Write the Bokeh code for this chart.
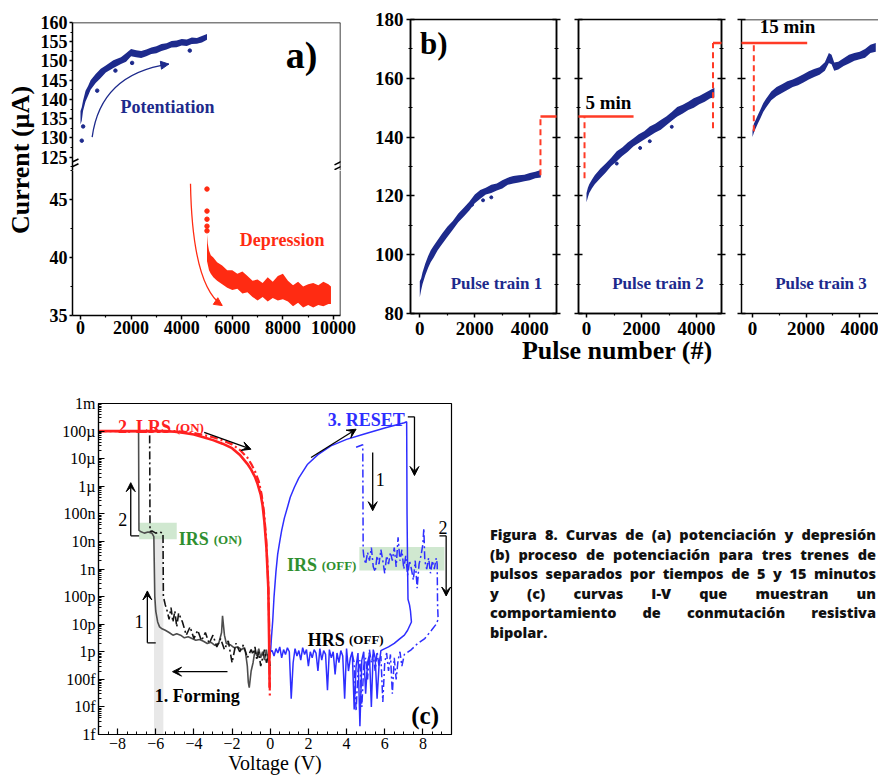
import math
from bokeh.plotting import figure
from bokeh.layouts import row, column
from bokeh.models import (Range1d, LinearAxis, FixedTicker, Label, Arrow, VeeHead, NormalHead,
                          BoxAnnotation, Div, Span, CustomJSTickFormatter)
from bokeh.embed import file_html
from bokeh.resources import INLINE

# ---------------------------------------------------------------- panel a data
a_xticks = [0, 2000, 4000, 6000, 8000, 10000]
a_top_ticks = [125, 130, 135, 140, 145, 150, 155, 160]
a_bot_ticks = [35, 40, 45]

pot_x = [0, 50, 100, 200, 300, 400, 600, 800, 1000, 1300, 1600, 1800, 2000, 2200, 2400, 2600,
         2800, 3000, 3200, 3400, 3600, 3800, 4000, 4200, 4400, 4600, 4800, 5000]
pot_lo = [133.5, 134.5, 137.0, 139.5, 141.0, 142.5, 144.3, 145.6, 147.0, 148.2, 149.2, 149.8, 151.2, 151.0,
          150.8, 151.2, 151.8, 152.0, 152.6, 153.0, 153.5, 153.6, 154.0, 153.9, 154.4, 154.5, 154.8, 155.5]
pot_hi = [137.0, 138.0, 139.7, 142.3, 143.5, 145.0, 146.6, 148.0, 148.8, 150.2, 151.0, 152.0, 153.1, 152.8,
          152.6, 153.0, 153.5, 153.8, 154.4, 154.6, 155.2, 155.3, 155.7, 155.6, 156.1, 156.0, 156.5, 157.0]
pot_out_x = [50, 105, 660, 1380, 2040, 4320]
pot_out_y = [129.3, 133.0, 142.3, 147.5, 149.5, 152.7]

dep_x = [5000, 5030, 5080, 5150, 5250, 5400, 5600, 5800, 6000, 6200, 6400, 6600, 6800, 7000, 7200,
         7400, 7600, 7800, 8000, 8200, 8400, 8600, 8800, 9000, 9200, 9400, 9600, 9800, 9900]
dep_lo = [39.7, 39.4, 38.9, 38.6, 38.3, 38.0, 37.7, 37.4, 37.2, 37.3, 36.9, 37.0, 36.6, 36.3, 36.6,
          36.2, 36.5, 36.3, 36.4, 36.2, 35.8, 36.1, 35.7, 35.9, 35.7, 35.9, 35.8, 36.0, 36.0]
dep_hi = [42.0, 41.2, 40.6, 40.2, 40.0, 39.6, 39.3, 38.9, 38.9, 38.6, 38.8, 38.4, 38.0, 38.1, 37.8,
          38.3, 37.9, 38.4, 38.6, 38.0, 37.6, 37.9, 37.5, 37.7, 37.8, 37.6, 37.9, 37.7, 37.5]
dep_dot_x = [5000, 5000, 5000, 5000, 5000]
dep_dot_y = [45.9, 44.0, 43.3, 42.7, 42.3]

# ---------------------------------------------------------------- panel b data
b_xticks = [0, 2000, 4000]
b_yticks = [80, 100, 120, 140, 160, 180]

t1_x = [0, 50, 100, 200, 300, 400, 500, 650, 800, 1000, 1200, 1400, 1600, 1800, 2000, 2200, 2400,
        2600, 2800, 3000, 3200, 3400, 3600, 3800, 4000, 4200, 4400]
t1_lo = [85.5, 88.0, 90.0, 93.0, 95.5, 97.5, 99.0, 101.5, 103.5, 106.0, 108.5, 111.0, 113.0, 115.0,
         117.5, 119.0, 120.5, 121.0, 121.8, 122.5, 123.8, 124.2, 124.6, 125.0, 125.3, 126.0, 126.3]
t1_hi = [91.0, 92.0, 94.0, 97.0, 99.5, 101.5, 103.0, 105.0, 107.0, 109.5, 111.5, 114.0, 116.0, 118.0,
         120.5, 122.0, 122.8, 123.8, 124.2, 125.3, 126.2, 126.8, 127.0, 127.2, 127.8, 128.2, 128.8]
t1_out_x = [1900, 2300, 2600]
t1_out_y = [117.0, 118.5, 119.5]

t2_x = [0, 50, 100, 200, 300, 500, 700, 900, 1100, 1300, 1500, 1700, 1900, 2100, 2300, 2500, 2700,
        2900, 3100, 3300, 3500, 3700, 3900, 4100, 4300, 4500, 4650]
t2_lo = [117.8, 119.5, 121.0, 122.6, 124.0, 126.0, 128.0, 130.2, 131.8, 133.6, 135.0, 136.8, 138.0,
         139.2, 140.4, 141.6, 142.5, 144.0, 145.6, 147.0, 148.0, 149.2, 150.0, 151.2, 152.0, 153.2, 153.5]
t2_hi = [121.0, 122.8, 124.0, 125.6, 127.0, 129.2, 131.0, 133.0, 135.2, 136.5, 138.2, 139.5, 141.0,
         142.0, 143.6, 144.5, 145.8, 147.0, 148.5, 150.2, 151.0, 152.0, 153.2, 154.0, 155.0, 156.0, 156.8]
t2_out_x = [1100, 1950, 2300, 3100]
t2_out_y = [131.0, 136.3, 138.6, 143.5]

t3_x = [0, 50, 100, 200, 300, 400, 500, 700, 900, 1100, 1300, 1500, 1700, 1900, 2100, 2300, 2500,
        2700, 2850, 2950, 3050, 3200, 3400, 3600, 3800, 4000, 4200, 4400, 4600]
t3_lo = [140.0, 141.5, 142.6, 144.6, 146.5, 148.5, 150.0, 152.5, 154.0, 155.0, 156.0, 157.0, 157.6,
         158.6, 159.6, 160.4, 161.2, 162.6, 165.2, 164.8, 162.6, 163.0, 164.2, 165.0, 166.0, 166.5,
         167.0, 168.6, 169.0]
t3_hi = [142.2, 144.5, 145.5, 147.5, 149.5, 151.5, 153.0, 155.5, 157.0, 158.0, 159.0, 159.6, 160.4,
         161.4, 162.4, 163.2, 163.8, 165.5, 168.6, 168.0, 165.4, 165.6, 166.8, 168.0, 168.6, 169.0,
         170.0, 171.4, 172.0]

# ---------------------------------------------------------------- panel c data
c_xticks = [-8, -6, -4, -2, 0, 2, 4, 6, 8]
c_yticks = [1e-15, 1e-14, 1e-13, 1e-12, 1e-11, 1e-10, 1e-9, 1e-8, 1e-7, 1e-6, 1e-5, 1e-4, 1e-3]
c_ytick_labels = ["1f", "10f", "100f", "1p", "10p", "100p", "1n", "10n", "100n", "1\u00b5", "10\u00b5",
                  "100\u00b5", "1m"]

red_x = [-9, -5.5, -5, -4.5, -4, -3.5, -3, -2.5, -2, -1.6, -1.2, -1.0, -0.8, -0.66, -0.5, -0.4,
         -0.31, -0.2, -0.1, -0.06, -0.03]
red_y = [1e-4, 1e-4, 9.5e-5, 8.5e-5, 7.5e-5, 6e-5, 4.7e-5, 3.5e-5, 2.4e-5, 1.4e-5, 6.5e-6, 4e-6,
         2.2e-6, 1.2e-6, 5e-7, 2e-7, 5.5e-8, 6e-9, 2e-10, 3e-12, 5e-14]
red2_x = [-9, -5.5, -5, -4.5, -4, -3.5, -3, -2.5, -2, -1.6, -1.2, -1.0, -0.8, -0.6, -0.45, -0.33,
          -0.22, -0.12, -0.07, -0.04, -0.02]
red2_y = [1e-4, 1e-4, 1e-4, 9.3e-5, 8.5e-5, 7.2e-5, 6e-5, 4.6e-5, 3.3e-5, 2.1e-5, 1.1e-5, 6.5e-6,
          3.5e-6, 1.5e-6, 5e-7, 1.2e-7, 1.5e-8, 6e-10, 3e-11, 1e-12, 2e-14]

blue_x = [0.02, 0.06, 0.13, 0.2, 0.3, 0.39, 0.5, 0.6, 0.74, 0.9, 1.05, 1.26, 1.5, 1.96, 2.5, 3.18,
          4.0, 4.93, 6.0, 7.03, 7.15, 7.17, 7.2, 7.22, 7.3, 7.35, 7.4, 7.2, 7.03, 6.8, 6.5, 6.2, 5.9]
blue_y = [1e-12, 3e-12, 1.3e-11, 1e-10, 8e-10, 3.4e-9, 1e-8, 2.5e-8, 7e-8, 1.7e-7, 4e-7, 9e-7, 2e-6,
          6.3e-6, 1.4e-5, 2.9e-5, 5e-5, 7.8e-5, 1.3e-4, 2e-4, 2.2e-4, 1e-7, 1e-9, 8e-11, 5e-11, 3e-11,
          1.2e-11, 6e-12, 4e-12, 3e-12, 2e-12, 1.5e-12, 1.2e-12]
hrs_x = [5.8, 5.7, 5.6, 5.5, 5.4, 5.3, 5.2, 5.1, 5.0, 4.9, 4.8, 4.7, 4.6, 4.5, 4.4, 4.3, 4.2, 4.1,
         4.0, 3.9, 3.8, 3.7, 3.6, 3.5, 3.4, 3.3, 3.2, 3.1, 3.0, 2.9, 2.8, 2.7, 2.6, 2.5, 2.4, 2.3,
         2.2, 2.1, 2.0, 1.9, 1.8, 1.7, 1.6, 1.5, 1.4, 1.3, 1.2, 1.1, 1.0, 0.9, 0.8, 0.7, 0.6, 0.5,
         0.4, 0.3, 0.2, 0.1, 0.02]
hrs_y = [1.1e-12, 3e-13, 2e-14, 6e-13, 1.2e-12, 1e-14, 8e-13, 4e-13, 3e-14, 1e-12, 5e-13, 2e-15,
         9e-13, 3e-13, 8e-15, 1e-12, 6e-13, 2e-13, 1.3e-12, 2e-14, 7e-13, 1.1e-12, 4e-13, 9e-13,
         1.5e-13, 1e-12, 6e-13, 1.2e-12, 4e-14, 8e-13, 1.1e-12, 5e-13, 1.3e-12, 2e-13, 9e-13, 1.2e-12,
         6e-13, 1e-12, 3e-13, 1.2e-12, 8e-13, 1.4e-12, 5e-13, 1.1e-12, 7e-13, 1.3e-12, 4e-13, 2e-14,
         1e-12, 1.4e-12, 8e-13, 1.2e-12, 6e-13, 1.5e-12, 9e-13, 1.3e-12, 7e-13, 1.1e-12, 1e-12]
blue2_x = [4.5, 4.85, 4.87, 4.9, 5.0, 5.1, 5.2, 5.3, 5.4, 5.5, 5.6, 5.7, 5.8, 5.9, 6.0, 6.1, 6.2,
           6.3, 6.4, 6.5, 6.6, 6.7, 6.8, 6.9, 7.0, 7.1, 7.2, 7.3, 7.4, 7.5, 7.6, 7.7, 7.8, 7.9, 8.0,
           8.05, 8.1, 8.2, 8.3, 8.4, 8.5, 8.6, 8.7, 8.75, 8.77, 8.8, 8.7, 8.45, 8.1, 7.73, 7.4, 7.03,
           6.9, 6.8, 6.7, 6.6, 6.5, 6.4, 6.3, 6.2, 6.1, 6.0, 5.9, 5.8, 5.7, 5.6, 5.5, 5.4, 5.3, 5.2,
           5.1, 5.0, 4.9, 4.8, 4.7, 4.6, 4.5, 4.4, 4.3]
blue2_y = [2.6e-5, 3.2e-5, 5e-9, 3e-9, 1.5e-9, 4e-9, 2e-9, 6e-9, 1.2e-9, 8e-10, 3e-9, 1.5e-9, 5e-9,
           2e-9, 7e-10, 3e-9, 1.5e-9, 4e-9, 2e-9, 6e-9, 1.2e-9, 1.4e-8, 2e-9, 5e-9, 1e-9, 3e-9, 6e-10,
           2e-9, 1e-9, 4e-10, 2e-9, 2e-10, 1.5e-9, 3e-9, 8e-9, 3e-8, 2e-9, 1e-9, 2.5e-9, 7e-10, 2e-9,
           1e-9, 2.5e-9, 1.5e-9, 5e-11, 1.5e-11, 1e-11, 6e-12, 3e-12, 2e-12, 1.2e-12, 8e-13, 3e-13,
           1e-12, 5e-13, 1e-13, 6e-13, 3e-14, 8e-13, 2e-13, 9e-13, 4e-13, 1.5e-14, 7e-13, 3e-13, 1e-12,
           2e-13, 8e-13, 4e-13, 1.2e-12, 1e-13, 6e-13, 3e-13, 1e-14, 5e-13, 2e-13, 7e-15, 4e-13, 8e-13]
form_x = [0.0, -0.1, -0.2, -0.3, -0.4, -0.5, -0.6, -0.7, -0.8, -0.9, -1.0, -1.1, -1.15, -1.2, -1.3,
          -1.4, -1.5, -1.7, -1.9, -2.1, -2.3, -2.4, -2.5, -2.55, -2.7, -2.9, -3.1, -3.3, -3.5, -3.7,
          -3.9, -4.1, -4.3, -4.5, -4.7, -4.9, -5.1, -5.3, -5.5, -5.7, -5.8, -5.9, -6.0, -6.05, -6.08,
          -6.1, -6.2, -6.4, -6.6, -6.8, -6.88, -6.9, -9.0]
form_y = [1e-12, 4e-13, 1.2e-12, 5e-13, 1e-12, 6e-13, 1.3e-12, 7e-13, 1.1e-12, 4e-13, 2e-13, 5e-14,
          8e-14, 3e-13, 1e-12, 1.4e-12, 1.2e-12, 1.5e-12, 1.4e-12, 1.8e-12, 2e-12, 4e-12, 2e-11, 5e-12,
          2e-12, 1.7e-12, 2.2e-12, 2e-12, 2.4e-12, 2.8e-12, 2.6e-12, 3e-12, 3.5e-12, 3.2e-12, 4e-12,
          4.5e-12, 4e-12, 5e-12, 6e-12, 7e-12, 8e-12, 1.2e-11, 3e-11, 1e-10, 2e-9, 1.5e-8, 2e-8, 2.2e-8,
          2e-8, 2.3e-8, 2.5e-8, 1e-4, 1e-4]
form2_x = [0.0, -0.1, -0.2, -0.3, -0.4, -0.5, -0.6, -0.7, -0.8, -0.9, -1.0, -1.2, -1.4, -1.6, -1.8,
           -2.0, -2.2, -2.4, -2.6, -2.8, -3.0, -3.2, -3.4, -3.6, -3.8, -4.0, -4.2, -4.4, -4.6, -4.8,
           -4.9, -5.0, -5.1, -5.2, -5.3, -5.4, -5.5, -5.6, -5.62, -5.8, -6.0, -6.2, -6.3, -6.32, -9.0]
form2_y = [3e-13, 8e-13, 4e-13, 1.2e-12, 6e-13, 3e-13, 1e-12, 5e-13, 1.5e-12, 8e-13, 1.2e-12, 6e-13,
           1.8e-12, 1e-12, 2e-12, 4e-13, 2.5e-12, 1.2e-12, 3e-12, 1.5e-12, 4e-12, 2e-12, 5e-12, 2.5e-12,
           6e-12, 3e-12, 8e-12, 4e-12, 1.2e-11, 2.5e-11, 8e-12, 3e-11, 1.2e-11, 4e-11, 1.5e-11, 3e-11,
           5e-11, 1e-10, 2e-8, 2.2e-8, 2e-8, 2.4e-8, 2.3e-8, 1e-4, 1e-4]

caption_lines = ["Figura 8. Curvas de (a) potenciaci\u00f3n y depresi\u00f3n",
                 "(b) proceso de potenciaci\u00f3n para tres trenes de",
                 "pulsos separados por tiempos de 5 y 15 minutos",
                 "y (c) curvas I-V que muestran un",
                 "comportamiento de conmutaci\u00f3n resistiva",
                 "bipolar."]

# ---------------------------------------------------------------- styling
SERIF = "Liberation Serif"
NAVY = "#1d2a8c"
RED_A = "#ff2b12"
BRACKET = "#ff3b26"
C_RED = "#ff2020"
C_BLUE = "#2e2eff"
C_GRAY = "#4d4d4d"
C_BLACK = "#141414"
C_GREEN = "#2f8f2f"


def make_fig(w, h, xr, yr, mb, y_type="linear", x_axis=True):
    l, r, t, b = mb
    p = figure(width=w, height=h, x_range=Range1d(*xr),
               y_range=yr if isinstance(yr, Range1d) else Range1d(*yr),
               y_axis_type=y_type, x_axis_location="below" if x_axis else None,
               min_border_left=l, min_border_right=r, min_border_top=t, min_border_bottom=b,
               output_backend="svg", toolbar_location=None)
    p.grid.visible = False
    p.outline_line_color = None
    p.background_fill_color = "white"
    p.border_fill_color = "white"
    return p


def style_axis(ax, ticks, minor, size="18px", t_in=0, t_out=4, m_in=0, m_out=2, standoff=3,
               labels=True, bold=True, lw=1.5):
    ax.ticker = FixedTicker(ticks=ticks, minor_ticks=minor)
    ax.axis_line_color = "black"
    ax.axis_line_width = lw
    ax.major_tick_line_color = "black"
    ax.major_tick_line_width = lw
    ax.minor_tick_line_color = "black"
    ax.minor_tick_line_width = lw * 0.8
    ax.major_tick_in = t_in
    ax.major_tick_out = t_out
    ax.minor_tick_in = m_in
    ax.minor_tick_out = m_out
    ax.major_label_standoff = standoff
    ax.major_label_text_font = SERIF
    ax.major_label_text_font_style = "bold" if bold else "normal"
    ax.major_label_text_font_size = size
    ax.major_label_text_color = "black"
    if not labels:
        ax.formatter = CustomJSTickFormatter(code="return ''")
        ax.major_label_standoff = 0


def mids(t):
    return [(a + b) / 2 for a, b in zip(t[:-1], t[1:])]


def lbl(p, x, y, text, size, color="black", bold=True, align="center", base="middle", angle=0.0):
    p.add_layout(Label(x=x, y=y, text=text, text_font=SERIF, text_font_size=size,
                       text_font_style="bold" if bold else "normal", text_color=color,
                       text_align=align, text_baseline=base, angle=angle))


def seg(p, x0, y0, x1, y1, color, width=1.5, dash="solid", head=None):
    p.add_layout(Arrow(end=head, x_start=x0, y_start=y0, x_end=x1, y_end=y1, line_color=color,
                       line_width=width, line_dash=dash))


# ---------------------------------------------------------------- panel a
A_XR = (-316, 10277)
a_top = make_fig(320, 170, A_XR, (121.55, 160), (36, 16, 22, 0), x_axis=False)
a_bot = make_fig(320, 218, A_XR, (35, 47.5), (36, 16, 0, 73))

style_axis(a_top.yaxis[0], a_top_ticks, mids(a_top_ticks) + [122.5], t_out=3, standoff=2)
a_top.add_layout(Span(location=160, dimension="width", line_color="black", line_width=1.5))
a_top.add_layout(Span(location=A_XR[1], dimension="height", line_color="black", line_width=1.5))

style_axis(a_bot.yaxis[0], a_bot_ticks, mids(a_bot_ticks) + [47.5], t_out=3, standoff=2)
style_axis(a_bot.xaxis[0], a_xticks, mids(a_xticks), t_out=4, m_out=2, standoff=1)
a_bot.add_layout(Span(location=A_XR[1], dimension="height", line_color="black", line_width=1.5))

a_top.varea(x=pot_x, y1=pot_lo, y2=pot_hi, fill_color=NAVY)
a_top.scatter(pot_out_x, pot_out_y, size=3.5, color=NAVY)
a_bot.varea(x=dep_x, y1=dep_lo, y2=dep_hi, fill_color=RED_A)
a_bot.scatter(dep_dot_x, dep_dot_y, size=4.5, color=RED_A)

# curved arrows (start, control, end)
pot_arrow = ((461, 130.2), (790, 146.6), (3491, 149.2))
dep_arrow = ((4348, 46.35), (4420, 37.6), (5600, 35.86))
for p, (s, cpt, e), col in ((a_top, pot_arrow, NAVY), (a_bot, dep_arrow, RED_A)):
    p.quadratic(x0=s[0], y0=s[1], x1=e[0], y1=e[1], cx=cpt[0], cy=cpt[1], line_color=col,
                line_width=1.3)
    hx = e[0] - 0.12 * (e[0] - cpt[0])
    hy = e[1] - 0.12 * (e[1] - cpt[1])
    seg(p, hx, hy, e[0], e[1], col, 1.3, head=NormalHead(size=8, fill_color=col, line_color=col))

lbl(a_top, 8735, 151.6, "a)", "38px")
lbl(a_top, 3439, 138.1, "Potentiation", "18px", NAVY)
lbl(a_bot, 7972, 41.5, "Depression", "18px", RED_A)
lbl(a_bot, 5040, 31.8, "Pulse number (#)", "26px")
# axis break marks
for xs in ((-560, -80), (10040, 10514)):
    seg(a_top, xs[0], 121.75, xs[1], 123.3, "black", 1.5)
    seg(a_top, xs[0], 123.0, xs[1], 124.55, "black", 1.5)

div_ay = Div(width=36, height=388, margin=0, text=(
    '<div style="width:36px;height:388px;position:relative;overflow:hidden;">'
    '<div style="position:absolute;left:21px;top:160px;transform:translate(-50%,-50%) rotate(-90deg);'
    'white-space:nowrap;font-family:\'Liberation Serif\';font-weight:bold;font-size:26px;'
    'line-height:28px;color:#000;">Current (\u00b5A)</div></div>'))

# ---------------------------------------------------------------- panel b
B3_K = 0.0268
b_yr = Range1d(80, 180)
b1 = make_fig(211, 343, (-338, 4971), b_yr, (54, 11, 19, 30))
b2 = make_fig(164, 343, (-291, 4909), b_yr, (11, 10, 19, 30))
b3 = make_fig(147, 343, (-11 / B3_K, 126 / B3_K), b_yr, (10, 0, 19, 30))

for i, p in enumerate((b1, b2, b3)):
    style_axis(p.yaxis[0], b_yticks, mids(b_yticks), size="19px", t_in=4, t_out=4, m_in=2, m_out=2,
               standoff=3, labels=(i == 0))
    style_axis(p.xaxis[0], b_xticks, mids(b_xticks), size="19px", t_in=0, t_out=4, m_out=2,
               standoff=4)
    if i < 2:
        p.outline_line_color = "black"
        p.outline_line_width = 1.5
        r = LinearAxis()
        style_axis(r, b_yticks, mids(b_yticks), t_in=4, t_out=4, m_in=2, m_out=2, labels=False)
        p.add_layout(r, "right")
    else:
        p.add_layout(Span(location=180, dimension="width", line_color="black", line_width=1.5))

for p, xs, lo, hi in ((b1, t1_x, t1_lo, t1_hi), (b2, t2_x, t2_lo, t2_hi), (b3, t3_x, t3_lo, t3_hi)):
    p.varea(x=xs, y1=lo, y2=hi, fill_color=NAVY)
b1.scatter(t1_out_x, t1_out_y, size=3, color=NAVY)
b2.scatter(t2_out_x, t2_out_y, size=3, color=NAVY)

# red brackets marking the pauses between trains
seg(b1, 4388, 127, 4388, 147, BRACKET, 2, "6 4")
seg(b1, 4388, 147, 7000, 147, BRACKET, 2.5)
seg(b2, -2500, 147, 1711, 147, BRACKET, 2.5)
seg(b2, -72, 126, -72, 147, BRACKET, 2, "6 4")
seg(b2, 4600, 143, 4600, 172, BRACKET, 2, "6 4")
seg(b2, 4600, 172, 7000, 172, BRACKET, 2.5)
seg(b3, -2500, 172, 2041, 172, BRACKET, 2.5)
seg(b3, 49, 142, 49, 172, BRACKET, 2, "6 4")
lbl(b2, -36, 148.3, "5 min", "19px", align="left", base="bottom")
lbl(b3, 272, 174.0, "15 min", "19px", align="left", base="bottom")

lbl(b1, 509, 171.9, "b)", "31px")
lbl(b1, -1829, 131.1, "Current (\u00b5A)", "25px", angle=math.pi / 2)
lbl(b1, 2789, 90.2, "Pulse train 1", "17px", NAVY)
lbl(b2, 2600, 90.2, "Pulse train 2", "17px", NAVY)
lbl(b3, 2556, 90.2, "Pulse train 3", "17px", NAVY)

div_bx = Div(width=522, height=45, margin=0, text=(
    '<div style="width:506px;padding-left:16px;text-align:center;font-family:\'Liberation Serif\';'
    'font-weight:bold;font-size:26px;line-height:16px;white-space:nowrap;color:#000;">'
    'Pulse number (#)</div>'))

# ---------------------------------------------------------------- panel c
c = make_fig(470, 391, (-9, 9.5), (1e-15, 1e-3), (98, 19, 15, 45), y_type="log")
c.outline_line_color = "black"
c.outline_line_width = 1.2
c_minor_x = [v / 2 for v in range(-18, 20) if v % 4 != 0]
c_minor_y = [m * t for t in c_yticks[:-1] for m in range(2, 10)]
style_axis(c.xaxis[0], c_xticks, c_minor_x, size="16px", t_in=6, t_out=0, m_in=3, m_out=0,
           standoff=3, bold=False, lw=1.2)
style_axis(c.yaxis[0], c_yticks, c_minor_y, size="16px", t_in=6, t_out=0, m_in=3, m_out=0,
           standoff=3, bold=False, lw=1.2)
c.xaxis[0].axis_label = "Voltage (V)"
c.xaxis[0].axis_label_text_font = SERIF
c.xaxis[0].axis_label_text_font_style = "normal"
c.xaxis[0].axis_label_text_font_size = "20px"
c.xaxis[0].axis_label_text_color = "black"
c.xaxis[0].axis_label_standoff = 0
c.yaxis[0].formatter = CustomJSTickFormatter(args=dict(labels=c_ytick_labels, tv=c_yticks), code="""
const i = tv.findIndex(t => Math.abs(Math.log10(t) - Math.log10(tick)) < 0.01);
return i >= 0 ? labels[i] : '';
""")

c.add_layout(BoxAnnotation(left=-6.09, right=-5.6, bottom=1e-15, top=1.6e-8, fill_color="#d9d9d9",
                           fill_alpha=0.6, line_color=None, level="underlay"))
c.add_layout(BoxAnnotation(left=-6.87, right=-4.9, bottom=1.2e-8, top=4.8e-8, fill_color="#a9d6a9",
                           fill_alpha=0.55, line_color=None, level="underlay"))
c.add_layout(BoxAnnotation(left=4.67, right=9.13, bottom=8.9e-10, top=6.3e-9, fill_color="#a9d6a9",
                           fill_alpha=0.55, line_color=None, level="underlay"))

c.line(form_x, form_y, line_color=C_GRAY, line_width=1.6)
c.line(form2_x, form2_y, line_color=C_BLACK, line_width=1.6, line_dash="8 3 2 3")
c.line(blue_x + hrs_x, blue_y + hrs_y, line_color=C_BLUE, line_width=1.5)
c.line(blue2_x, blue2_y, line_color=C_BLUE, line_width=1.5, line_dash="8 3 2 3")
c.line(red2_x, red2_y, line_color=C_RED, line_width=2.2, line_dash="8 3 2 3")
c.line(red_x, red_y, line_color=C_RED, line_width=2.6)


def vhead():
    return VeeHead(size=9, line_color="black", fill_color="black", line_width=1)


seg(c, -3.46, 8.9e-5, -1.01, 2.2e-5, "black", 1.3, head=vhead())
seg(c, 2.14, 1.1e-5, 4.5, 1.17e-4, "black", 1.3, head=vhead())
seg(c, 7.21, 3.3e-4, 7.56, 3.3e-4, "black", 1.3)
seg(c, 7.56, 3.3e-4, 7.56, 2.45e-6, "black", 1.3, head=vhead())
seg(c, 5.37, 1.66e-5, 5.37, 1.3e-7, "black", 1.3, head=vhead())
seg(c, 8.87, 1.6e-8, 9.22, 1.6e-8, "black", 1.3)
seg(c, 9.22, 1.6e-8, 9.22, 1.05e-10, "black", 1.3, head=vhead())
seg(c, -6.87, 1.6e-8, -7.31, 1.6e-8, "black", 1.3)
seg(c, -7.31, 1.6e-8, -7.31, 1.35e-6, "black", 1.3, head=vhead())
seg(c, -6.0, 2.1e-12, -6.44, 2.1e-12, "black", 1.3)
seg(c, -6.44, 2.1e-12, -6.44, 1.6e-10, "black", 1.3, head=vhead())
seg(c, -2.24, 1.9e-13, -5.12, 1.9e-13, "black", 1.3, head=vhead())

lbl(c, -7.98, 1.4e-4, "2. LRS", "18px", C_RED, align="left", base="alphabetic")
lbl(c, -4.95, 1.4e-4, "(ON)", "13px", C_RED, align="left", base="alphabetic")
lbl(c, 3.01, 2.48e-4, "3. RESET", "18px", C_BLUE, align="left", base="alphabetic")
lbl(c, -4.79, 1.19e-8, "IRS", "18px", C_GREEN, align="left", base="alphabetic")
lbl(c, -2.96, 1.19e-8, "(ON)", "13px", C_GREEN, align="left", base="alphabetic")
lbl(c, 0.88, 1.36e-9, "IRS", "18px", C_GREEN, align="left", base="alphabetic")
lbl(c, 2.7, 1.36e-9, "(OFF)", "13px", C_GREEN, align="left", base="alphabetic")
lbl(c, 1.96, 2.74e-12, "HRS", "18px", "black", align="left", base="alphabetic")
lbl(c, 4.13, 2.74e-12, "(OFF)", "13px", "black", align="left", base="alphabetic")
lbl(c, -6.05, 2.4e-14, "1. Forming", "18px", "black", align="left", base="alphabetic")
lbl(c, 7.39, 5e-15, "(c)", "25px", "black", align="left", base="alphabetic")
lbl(c, -7.73, 6.3e-8, "2", "18px", bold=False)
lbl(c, -6.88, 1.29e-11, "1", "18px", bold=False)
lbl(c, 5.77, 1.78e-6, "1", "18px", bold=False)
lbl(c, 9.05, 3.16e-8, "2", "18px", bold=False)
lbl(c, -11.85, 9.8e-10, "Current (A)", "21px", bold=False, angle=math.pi / 2)

# ---------------------------------------------------------------- caption
cap_html = []
for i, line in enumerate(caption_lines):
    just = ("text-align:justify;text-align-last:justify;" if i < len(caption_lines) - 1
            else "text-align:left;")
    cap_html.append('<div style="%s">%s</div>' % (just, line))
div_cap = Div(width=408, height=391, margin=0, text=(
    '<div style="width:408px;height:391px;overflow:hidden;position:relative;">'
    '<div style="position:absolute;left:20px;top:137px;width:386px;font-family:\'Open Sans\';'
    'font-weight:800;font-size:14.5px;line-height:19.6px;color:#111;">' + "".join(cap_html) +
    '</div></div>'))

layout = column(
    row(div_ay, column(a_top, a_bot), column(row(b1, b2, b3), div_bx)),
    row(c, div_cap))

open("out.html", "w").write(file_html(layout, INLINE))
